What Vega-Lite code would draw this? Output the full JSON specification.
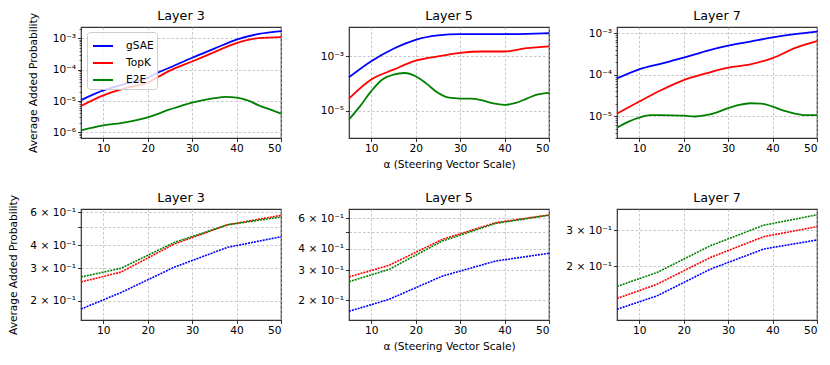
{
  "$schema": "https://vega.github.io/schema/vega-lite/v6.json",
  "background": "white",
  "padding": {"left": 8, "top": 9, "right": 5, "bottom": 5},
  "columns": 3,
  "bounds": "flush",
  "spacing": {"row": 71, "column": 68},
  "resolve": {"legend": {"color": "independent"}},
  "data": {"values": [
    {"panel":"T3","method":"gSAE","alpha":5,"value":1.07e-5},
    {"panel":"T3","method":"gSAE","alpha":10,"value":2.19e-5},
    {"panel":"T3","method":"gSAE","alpha":15,"value":3.55e-5},
    {"panel":"T3","method":"gSAE","alpha":20,"value":5.5e-5},
    {"panel":"T3","method":"gSAE","alpha":22.5,"value":8.3e-5},
    {"panel":"T3","method":"gSAE","alpha":25,"value":1.17e-4},
    {"panel":"T3","method":"gSAE","alpha":30,"value":2.4e-4},
    {"panel":"T3","method":"gSAE","alpha":35,"value":4.68e-4},
    {"panel":"T3","method":"gSAE","alpha":40,"value":9.12e-4},
    {"panel":"T3","method":"gSAE","alpha":45,"value":1.38e-3},
    {"panel":"T3","method":"gSAE","alpha":50,"value":1.7e-3},
    {"panel":"T3","method":"TopK","alpha":5,"value":6.92e-6},
    {"panel":"T3","method":"TopK","alpha":10,"value":1.51e-5},
    {"panel":"T3","method":"TopK","alpha":15,"value":2.57e-5},
    {"panel":"T3","method":"TopK","alpha":20,"value":3.89e-5},
    {"panel":"T3","method":"TopK","alpha":22.5,"value":6.03e-5},
    {"panel":"T3","method":"TopK","alpha":25,"value":9.33e-5},
    {"panel":"T3","method":"TopK","alpha":30,"value":1.82e-4},
    {"panel":"T3","method":"TopK","alpha":35,"value":3.63e-4},
    {"panel":"T3","method":"TopK","alpha":40,"value":7.08e-4},
    {"panel":"T3","method":"TopK","alpha":45,"value":1.02e-3},
    {"panel":"T3","method":"TopK","alpha":50,"value":1.1e-3},
    {"panel":"T3","method":"E2E","alpha":5,"value":1.15e-6},
    {"panel":"T3","method":"E2E","alpha":10,"value":1.66e-6},
    {"panel":"T3","method":"E2E","alpha":15,"value":2.09e-6},
    {"panel":"T3","method":"E2E","alpha":20,"value":3.02e-6},
    {"panel":"T3","method":"E2E","alpha":25,"value":5.37e-6},
    {"panel":"T3","method":"E2E","alpha":30,"value":8.91e-6},
    {"panel":"T3","method":"E2E","alpha":35,"value":1.23e-5},
    {"panel":"T3","method":"E2E","alpha":37.5,"value":1.35e-5},
    {"panel":"T3","method":"E2E","alpha":40,"value":1.29e-5},
    {"panel":"T3","method":"E2E","alpha":42.5,"value":1.05e-5},
    {"panel":"T3","method":"E2E","alpha":45,"value":7.24e-6},
    {"panel":"T3","method":"E2E","alpha":47.5,"value":5.37e-6},
    {"panel":"T3","method":"E2E","alpha":50,"value":3.98e-6},

    {"panel":"T5","method":"gSAE","alpha":5,"value":1.7e-4},
    {"panel":"T5","method":"gSAE","alpha":10,"value":6.61e-4},
    {"panel":"T5","method":"gSAE","alpha":15,"value":1.91e-3},
    {"panel":"T5","method":"gSAE","alpha":20,"value":4.07e-3},
    {"panel":"T5","method":"gSAE","alpha":25,"value":5.89e-3},
    {"panel":"T5","method":"gSAE","alpha":30,"value":6.61e-3},
    {"panel":"T5","method":"gSAE","alpha":35,"value":6.61e-3},
    {"panel":"T5","method":"gSAE","alpha":40,"value":6.61e-3},
    {"panel":"T5","method":"gSAE","alpha":45,"value":6.76e-3},
    {"panel":"T5","method":"gSAE","alpha":50,"value":7.08e-3},
    {"panel":"T5","method":"TopK","alpha":5,"value":2.82e-5},
    {"panel":"T5","method":"TopK","alpha":10,"value":1.41e-4},
    {"panel":"T5","method":"TopK","alpha":15,"value":3.24e-4},
    {"panel":"T5","method":"TopK","alpha":20,"value":6.92e-4},
    {"panel":"T5","method":"TopK","alpha":25,"value":1.0e-3},
    {"panel":"T5","method":"TopK","alpha":30,"value":1.35e-3},
    {"panel":"T5","method":"TopK","alpha":35,"value":1.51e-3},
    {"panel":"T5","method":"TopK","alpha":40,"value":1.51e-3},
    {"panel":"T5","method":"TopK","alpha":45,"value":2.0e-3},
    {"panel":"T5","method":"TopK","alpha":50,"value":2.34e-3},
    {"panel":"T5","method":"E2E","alpha":5,"value":4.79e-6},
    {"panel":"T5","method":"E2E","alpha":7.5,"value":1.48e-5},
    {"panel":"T5","method":"E2E","alpha":10,"value":5.25e-5},
    {"panel":"T5","method":"E2E","alpha":12.5,"value":1.41e-4},
    {"panel":"T5","method":"E2E","alpha":15,"value":2.14e-4},
    {"panel":"T5","method":"E2E","alpha":17.5,"value":2.45e-4},
    {"panel":"T5","method":"E2E","alpha":20,"value":1.86e-4},
    {"panel":"T5","method":"E2E","alpha":22.5,"value":9.77e-5},
    {"panel":"T5","method":"E2E","alpha":25,"value":4.57e-5},
    {"panel":"T5","method":"E2E","alpha":27.5,"value":3.02e-5},
    {"panel":"T5","method":"E2E","alpha":30,"value":2.82e-5},
    {"panel":"T5","method":"E2E","alpha":32.5,"value":2.82e-5},
    {"panel":"T5","method":"E2E","alpha":35,"value":2.4e-5},
    {"panel":"T5","method":"E2E","alpha":37.5,"value":1.86e-5},
    {"panel":"T5","method":"E2E","alpha":40,"value":1.66e-5},
    {"panel":"T5","method":"E2E","alpha":42.5,"value":1.95e-5},
    {"panel":"T5","method":"E2E","alpha":45,"value":2.82e-5},
    {"panel":"T5","method":"E2E","alpha":47.5,"value":3.98e-5},
    {"panel":"T5","method":"E2E","alpha":50,"value":4.57e-5},

    {"panel":"T7","method":"gSAE","alpha":5,"value":8.13e-5},
    {"panel":"T7","method":"gSAE","alpha":10,"value":1.35e-4},
    {"panel":"T7","method":"gSAE","alpha":15,"value":1.86e-4},
    {"panel":"T7","method":"gSAE","alpha":20,"value":2.57e-4},
    {"panel":"T7","method":"gSAE","alpha":25,"value":3.72e-4},
    {"panel":"T7","method":"gSAE","alpha":30,"value":5.01e-4},
    {"panel":"T7","method":"gSAE","alpha":35,"value":6.31e-4},
    {"panel":"T7","method":"gSAE","alpha":40,"value":7.94e-4},
    {"panel":"T7","method":"gSAE","alpha":45,"value":9.55e-4},
    {"panel":"T7","method":"gSAE","alpha":50,"value":1.1e-3},
    {"panel":"T7","method":"TopK","alpha":5,"value":1.15e-5},
    {"panel":"T7","method":"TopK","alpha":10,"value":2.24e-5},
    {"panel":"T7","method":"TopK","alpha":15,"value":4.27e-5},
    {"panel":"T7","method":"TopK","alpha":20,"value":7.41e-5},
    {"panel":"T7","method":"TopK","alpha":25,"value":1.07e-4},
    {"panel":"T7","method":"TopK","alpha":30,"value":1.48e-4},
    {"panel":"T7","method":"TopK","alpha":35,"value":1.78e-4},
    {"panel":"T7","method":"TopK","alpha":40,"value":2.51e-4},
    {"panel":"T7","method":"TopK","alpha":45,"value":4.37e-4},
    {"panel":"T7","method":"TopK","alpha":50,"value":6.46e-4},
    {"panel":"T7","method":"E2E","alpha":5,"value":5.25e-6},
    {"panel":"T7","method":"E2E","alpha":7.5,"value":7.24e-6},
    {"panel":"T7","method":"E2E","alpha":10,"value":9.12e-6},
    {"panel":"T7","method":"E2E","alpha":12.5,"value":1.05e-5},
    {"panel":"T7","method":"E2E","alpha":15,"value":1.05e-5},
    {"panel":"T7","method":"E2E","alpha":17.5,"value":1.04e-5},
    {"panel":"T7","method":"E2E","alpha":20,"value":1.02e-5},
    {"panel":"T7","method":"E2E","alpha":22.5,"value":9.77e-6},
    {"panel":"T7","method":"E2E","alpha":25,"value":1.05e-5},
    {"panel":"T7","method":"E2E","alpha":27.5,"value":1.23e-5},
    {"panel":"T7","method":"E2E","alpha":30,"value":1.55e-5},
    {"panel":"T7","method":"E2E","alpha":32.5,"value":1.86e-5},
    {"panel":"T7","method":"E2E","alpha":35,"value":2.04e-5},
    {"panel":"T7","method":"E2E","alpha":37.5,"value":2.0e-5},
    {"panel":"T7","method":"E2E","alpha":40,"value":1.7e-5},
    {"panel":"T7","method":"E2E","alpha":42.5,"value":1.35e-5},
    {"panel":"T7","method":"E2E","alpha":45,"value":1.15e-5},
    {"panel":"T7","method":"E2E","alpha":47.5,"value":1.05e-5},
    {"panel":"T7","method":"E2E","alpha":50,"value":1.05e-5},

    {"panel":"B3","method":"gSAE","alpha":5,"value":0.181},
    {"panel":"B3","method":"gSAE","alpha":14,"value":0.222},
    {"panel":"B3","method":"gSAE","alpha":26,"value":0.304},
    {"panel":"B3","method":"gSAE","alpha":38,"value":0.389},
    {"panel":"B3","method":"gSAE","alpha":50,"value":0.443},
    {"panel":"B3","method":"TopK","alpha":5,"value":0.253},
    {"panel":"B3","method":"TopK","alpha":14,"value":0.286},
    {"panel":"B3","method":"TopK","alpha":26,"value":0.405},
    {"panel":"B3","method":"TopK","alpha":38,"value":0.514},
    {"panel":"B3","method":"TopK","alpha":50,"value":0.578},
    {"panel":"B3","method":"E2E","alpha":5,"value":0.269},
    {"panel":"B3","method":"E2E","alpha":14,"value":0.3},
    {"panel":"B3","method":"E2E","alpha":26,"value":0.413},
    {"panel":"B3","method":"E2E","alpha":38,"value":0.514},
    {"panel":"B3","method":"E2E","alpha":50,"value":0.566},

    {"panel":"B5","method":"gSAE","alpha":5,"value":0.173},
    {"panel":"B5","method":"gSAE","alpha":14,"value":0.203},
    {"panel":"B5","method":"gSAE","alpha":26,"value":0.277},
    {"panel":"B5","method":"gSAE","alpha":38,"value":0.339},
    {"panel":"B5","method":"gSAE","alpha":50,"value":0.376},
    {"panel":"B5","method":"TopK","alpha":5,"value":0.274},
    {"panel":"B5","method":"TopK","alpha":14,"value":0.32},
    {"panel":"B5","method":"TopK","alpha":26,"value":0.453},
    {"panel":"B5","method":"TopK","alpha":38,"value":0.566},
    {"panel":"B5","method":"TopK","alpha":50,"value":0.628},
    {"panel":"B5","method":"E2E","alpha":5,"value":0.257},
    {"panel":"B5","method":"E2E","alpha":14,"value":0.303},
    {"panel":"B5","method":"E2E","alpha":26,"value":0.443},
    {"panel":"B5","method":"E2E","alpha":38,"value":0.561},
    {"panel":"B5","method":"E2E","alpha":50,"value":0.626},

    {"panel":"B7","method":"gSAE","alpha":5,"value":0.124},
    {"panel":"B7","method":"gSAE","alpha":14,"value":0.144},
    {"panel":"B7","method":"gSAE","alpha":26,"value":0.194},
    {"panel":"B7","method":"gSAE","alpha":38,"value":0.243},
    {"panel":"B7","method":"gSAE","alpha":50,"value":0.269},
    {"panel":"B7","method":"TopK","alpha":5,"value":0.14},
    {"panel":"B7","method":"TopK","alpha":14,"value":0.164},
    {"panel":"B7","method":"TopK","alpha":26,"value":0.221},
    {"panel":"B7","method":"TopK","alpha":38,"value":0.279},
    {"panel":"B7","method":"TopK","alpha":50,"value":0.312},
    {"panel":"B7","method":"E2E","alpha":5,"value":0.16},
    {"panel":"B7","method":"E2E","alpha":14,"value":0.187},
    {"panel":"B7","method":"E2E","alpha":26,"value":0.252},
    {"panel":"B7","method":"E2E","alpha":38,"value":0.317},
    {"panel":"B7","method":"E2E","alpha":50,"value":0.356}
  ]},
  "concat": [
    {
      "title": {"text": "Layer 3", "dy": 14},
      "width": 200, "height": 111,
      "transform": [{"filter": "datum.panel == 'T3'"}],
      "resolve": {"axis": {"y": "independent"}},
      "layer": [
        {
          "mark": {"type": "line", "interpolate": "monotone", "strokeWidth": 1.8},
          "encoding": {
            "x": {"field": "alpha", "type": "quantitative", "scale": {"domain": [5, 50], "nice": false, "zero": false}, "axis": {"values": [10, 20, 30, 40, 50], "title": null}},
            "y": {"field": "value", "type": "quantitative", "scale": {"type": "log", "domain": [6.6e-7, 2.3e-3], "nice": false}, "axis": {"values": [1e-6, 1e-5, 1e-4, 1e-3], "labelExpr": "datum.value > 5e-4 ? '10⁻³' : datum.value > 5e-5 ? '10⁻⁴' : datum.value > 5e-6 ? '10⁻⁵' : '10⁻⁶'", "title": "Average Added Probability", "titlePadding": 14}},
            "color": {"field": "method", "type": "nominal", "scale": {"domain": ["gSAE", "TopK", "E2E"], "range": ["#0000ff", "#ff0000", "#008000"]},
              "legend": {"title": null, "orient": "none", "legendX": 6, "legendY": 5, "symbolType": "stroke", "symbolSize": 400, "symbolStrokeWidth": 2, "symbolOffset": 2, "labelFontSize": 10.6, "labelOffset": 12, "rowPadding": -3.5, "padding": 3, "strokeColor": "#cccccc", "fillColor": "rgba(255,255,255,0.8)", "cornerRadius": 3, "labelColor": "#000"}}
          }
        },
        {
          "mark": {"type": "line", "opacity": 0},
          "encoding": {
            "x": {"field": "alpha", "type": "quantitative", "scale": {"domain": [5, 50], "nice": false, "zero": false}, "axis": {"values": [10, 20, 30, 40, 50], "title": null}},
            "y": {"field": "value", "type": "quantitative", "scale": {"type": "log", "domain": [6.6e-7, 2.3e-3], "nice": false}, "axis": {"orient": "left", "values": [7e-7, 8e-7, 9e-7, 2e-6, 3e-6, 4e-6, 5e-6, 6e-6, 7e-6, 8e-6, 9e-6, 2e-5, 3e-5, 4e-5, 5e-5, 6e-5, 7e-5, 8e-5, 9e-5, 2e-4, 3e-4, 4e-4, 5e-4, 6e-4, 7e-4, 8e-4, 9e-4, 2e-3], "labels": false, "grid": false, "tickSize": 2, "tickWidth": 0.6, "title": null}},
            "detail": {"field": "method", "type": "nominal"}
          }
        }
      ]
    },
    {
      "title": {"text": "Layer 5"},
      "width": 200, "height": 111,
      "transform": [{"filter": "datum.panel == 'T5'"}],
      "mark": {"type": "line", "interpolate": "monotone", "strokeWidth": 1.8},
      "encoding": {
        "x": {"field": "alpha", "type": "quantitative", "scale": {"domain": [5, 50], "nice": false, "zero": false}, "axis": {"values": [10, 20, 30, 40, 50], "title": "α (Steering Vector Scale)"}},
        "y": {"field": "value", "type": "quantitative", "scale": {"type": "log", "domain": [1e-6, 1.2e-2], "nice": false}, "axis": {"values": [1e-5, 1e-3], "labelExpr": "datum.value > 5e-4 ? '10⁻³' : '10⁻⁵'", "title": null}},
        "color": {"field": "method", "type": "nominal", "scale": {"domain": ["gSAE", "TopK", "E2E"], "range": ["#0000ff", "#ff0000", "#008000"]}, "legend": null}
      }
    },
    {
      "title": {"text": "Layer 7"},
      "width": 200, "height": 111,
      "transform": [{"filter": "datum.panel == 'T7'"}],
      "resolve": {"axis": {"y": "independent"}},
      "layer": [
        {
          "mark": {"type": "line", "interpolate": "monotone", "strokeWidth": 1.8},
          "encoding": {
            "x": {"field": "alpha", "type": "quantitative", "scale": {"domain": [5, 50], "nice": false, "zero": false}, "axis": {"values": [10, 20, 30, 40, 50], "title": null}},
            "y": {"field": "value", "type": "quantitative", "scale": {"type": "log", "domain": [2.95e-6, 1.42e-3], "nice": false}, "axis": {"values": [1e-5, 1e-4, 1e-3], "labelExpr": "datum.value > 5e-4 ? '10⁻³' : datum.value > 5e-5 ? '10⁻⁴' : '10⁻⁵'", "title": null}},
            "color": {"field": "method", "type": "nominal", "scale": {"domain": ["gSAE", "TopK", "E2E"], "range": ["#0000ff", "#ff0000", "#008000"]}, "legend": null}
          }
        },
        {
          "mark": {"type": "line", "opacity": 0},
          "encoding": {
            "x": {"field": "alpha", "type": "quantitative", "scale": {"domain": [5, 50], "nice": false, "zero": false}, "axis": {"values": [10, 20, 30, 40, 50], "title": null}},
            "y": {"field": "value", "type": "quantitative", "scale": {"type": "log", "domain": [2.95e-6, 1.42e-3], "nice": false}, "axis": {"orient": "left", "values": [3e-6, 4e-6, 5e-6, 6e-6, 7e-6, 8e-6, 9e-6, 2e-5, 3e-5, 4e-5, 5e-5, 6e-5, 7e-5, 8e-5, 9e-5, 2e-4, 3e-4, 4e-4, 5e-4, 6e-4, 7e-4, 8e-4, 9e-4], "labels": false, "grid": false, "tickSize": 2, "tickWidth": 0.6, "title": null}},
            "detail": {"field": "method", "type": "nominal"}
          }
        }
      ]
    },
    {
      "title": {"text": "Layer 3", "dy": 14},
      "width": 200, "height": 111,
      "transform": [{"filter": "datum.panel == 'B3'"}],
      "mark": {"type": "line", "strokeWidth": 1.6, "strokeDash": [2, 1]},
      "encoding": {
        "x": {"field": "alpha", "type": "quantitative", "scale": {"domain": [5, 50], "nice": false, "zero": false}, "axis": {"values": [10, 20, 30, 40, 50], "title": null}},
        "y": {"field": "value", "type": "quantitative", "scale": {"type": "log", "domain": [0.158, 0.625], "nice": false}, "axis": {"values": [0.2, 0.3, 0.4, 0.5, 0.6], "labelExpr": "datum.value > 0.55 ? '6 × 10⁻¹' : datum.value > 0.45 ? '' : datum.value > 0.35 ? '4 × 10⁻¹' : datum.value > 0.25 ? '3 × 10⁻¹' : '2 × 10⁻¹'", "title": "Average Added Probability", "titlePadding": 11}},
        "color": {"field": "method", "type": "nominal", "scale": {"domain": ["gSAE", "TopK", "E2E"], "range": ["#0000ff", "#ff0000", "#008000"]}, "legend": null}
      }
    },
    {
      "title": {"text": "Layer 5"},
      "width": 200, "height": 111,
      "transform": [{"filter": "datum.panel == 'B5'"}],
      "mark": {"type": "line", "strokeWidth": 1.6, "strokeDash": [2, 1]},
      "encoding": {
        "x": {"field": "alpha", "type": "quantitative", "scale": {"domain": [5, 50], "nice": false, "zero": false}, "axis": {"values": [10, 20, 30, 40, 50], "title": "α (Steering Vector Scale)"}},
        "y": {"field": "value", "type": "quantitative", "scale": {"type": "log", "domain": [0.154, 0.68], "nice": false}, "axis": {"values": [0.2, 0.3, 0.4, 0.5, 0.6], "labelExpr": "datum.value > 0.55 ? '6 × 10⁻¹' : datum.value > 0.45 ? '' : datum.value > 0.35 ? '4 × 10⁻¹' : datum.value > 0.25 ? '3 × 10⁻¹' : '2 × 10⁻¹'", "title": null}},
        "color": {"field": "method", "type": "nominal", "scale": {"domain": ["gSAE", "TopK", "E2E"], "range": ["#0000ff", "#ff0000", "#008000"]}, "legend": null}
      }
    },
    {
      "title": {"text": "Layer 7"},
      "width": 200, "height": 111,
      "transform": [{"filter": "datum.panel == 'B7'"}],
      "mark": {"type": "line", "strokeWidth": 1.6, "strokeDash": [2, 1]},
      "encoding": {
        "x": {"field": "alpha", "type": "quantitative", "scale": {"domain": [5, 50], "nice": false, "zero": false}, "axis": {"values": [10, 20, 30, 40, 50], "title": null}},
        "y": {"field": "value", "type": "quantitative", "scale": {"type": "log", "domain": [0.11, 0.38], "nice": false}, "axis": {"values": [0.2, 0.3], "labelExpr": "datum.value > 0.25 ? '3 × 10⁻¹' : '2 × 10⁻¹'", "title": null}},
        "color": {"field": "method", "type": "nominal", "scale": {"domain": ["gSAE", "TopK", "E2E"], "range": ["#0000ff", "#ff0000", "#008000"]}, "legend": null}
      }
    }
  ],
  "config": {
    "font": "DejaVu Sans",
    "view": {"stroke": "#333333", "strokeWidth": 1.2},
    "axis": {"labelFont": "DejaVu Sans", "labelFontSize": 10.6, "labelColor": "#000000", "tickColor": "#000000", "tickSize": 3.5, "tickWidth": 0.8, "labelPadding": 2, "domain": false, "grid": true, "gridColor": "#b0b0b0", "gridDash": [2.5, 2], "gridWidth": 0.7, "titleFont": "DejaVu Sans", "titleFontSize": 10.6, "titleFontWeight": "normal", "titleColor": "#000000", "titlePadding": 5},
    "title": {"font": "DejaVu Sans", "fontSize": 12.7, "fontWeight": "normal", "color": "#000000", "offset": 4},
    "legend": {"labelFont": "DejaVu Sans"}
  }
}
